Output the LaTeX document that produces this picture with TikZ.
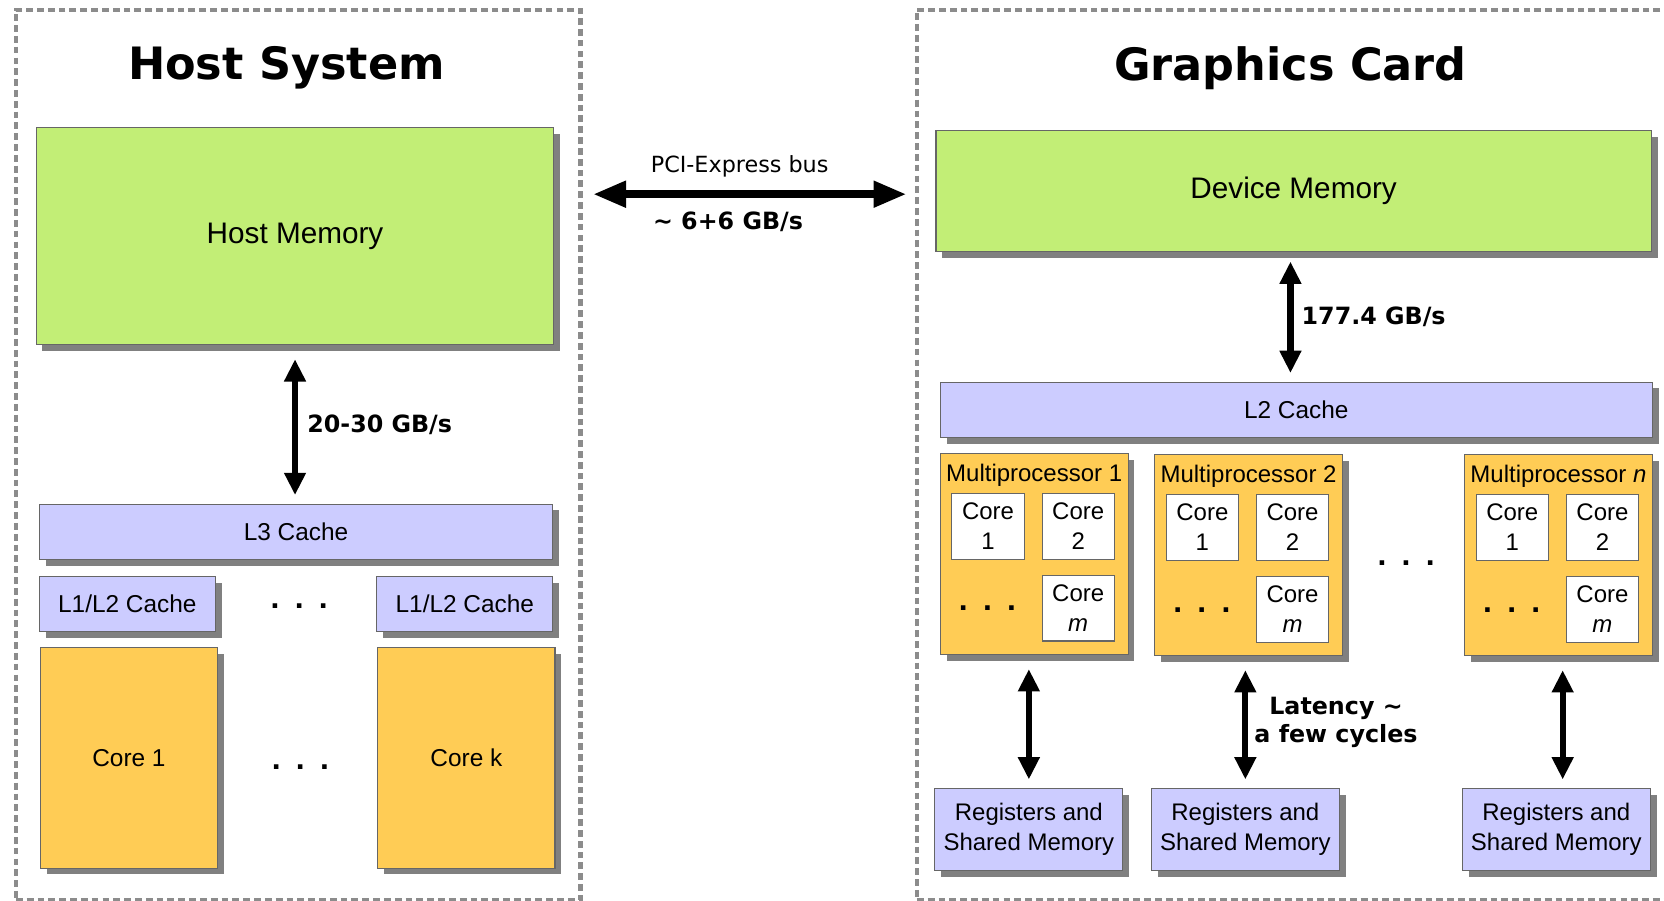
\documentclass[tikz,border=0pt]{standalone}
\usepackage{fontspec}
\setmainfont{Liberation Sans}
\newfontfamily\dejavu{DejaVu Sans}
\usetikzlibrary{arrows.meta,positioning,calc,shadows}

\definecolor{memgreen}{HTML}{C2EE76}
\definecolor{cachelav}{HTML}{CCCCFF}
\definecolor{coreorange}{HTML}{FFCC55}

\tikzset{
	box/.style={draw=black!60, line width=0.5pt, inner sep=0pt, align=center,
		drop shadow={shadow xshift=3pt, shadow yshift=-3pt, fill=black!50, opacity=1}},
	mem/.style={box, fill=memgreen, font=\fontsize{14}{17}\selectfont},
	cache/.style={box, fill=cachelav, minimum height=26pt, font=\fontsize{11.5}{14}\selectfont},
	cpucore/.style={box, fill=coreorange, minimum width=83.5pt, minimum height=104pt, font=\fontsize{11.5}{14}\selectfont},
	mproc/.style={box, fill=coreorange, minimum width=88.5pt, minimum height=95pt},
	mptitle/.style={inner sep=0pt, font=\fontsize{11.3}{14}\selectfont},
	smcore/.style={draw=black!60, line width=0.5pt, fill=white, inner sep=0pt, align=center,
		minimum width=34pt, minimum height=31pt, font=\fontsize{11.3}{14}\selectfont},
	regs/.style={box, fill=cachelav, minimum width=88.5pt, minimum height=38.5pt, font=\fontsize{11.3}{14}\selectfont},
	sysframe/.style={draw=black!45, line width=1.9pt, dash pattern=on 3.2pt off 1.9pt},
	title/.style={font=\dejavu\bfseries\fontsize{21}{25}\selectfont},
	rate/.style={font=\dejavu\bfseries\fontsize{11.2}{13}\selectfont},
	link/.style={line width=2.9pt, {Triangle[length=10.5pt,width=9.7pt]}-{Triangle[length=10.5pt,width=9.7pt]},
		shorten <=6.5pt, shorten >=4pt},
	bus/.style={line width=3.6pt, {Triangle[length=15.5pt,width=11.8pt]}-{Triangle[length=15.5pt,width=11.8pt]},
		shorten <=5pt, shorten >=4pt},
	spdots/.style={inner sep=0pt, font=\bfseries\fontsize{15}{17}\selectfont}
}
\newcommand{\spacedots}{.\hspace{7.2pt}.\hspace{7.2pt}.}

\begin{document}
\begin{tikzpicture}[x=0.5pt,y=-0.5pt]
	\useasboundingbox (0,0) rectangle (1568,849);
	% frames
	\node[sysframe, minimum width=266pt, minimum height=419.5pt] (hostframe) at (281,428.5) {};
	\node[sysframe, minimum width=355.5pt, minimum height=419.5pt] (gpuframe) at (1219.5,428.5) {};
	\node[title] (hosttitle) at (270,64) {Host System};
	\node[title] (gputitle) at (1216,64) {Graphics Card};

	% host side
	\node[mem, minimum width=244pt, minimum height=102.5pt] (hostmem) at (278,222.5) {Host Memory};
	\node[cache, minimum width=242pt] (l3) at (279,501) {L3 Cache};
	\node[cache, minimum width=83pt] (l1a) at (120,569) {L1/L2 Cache};
	\node[cache, minimum width=83pt] (l1b) at (438,569) {L1/L2 Cache};
	\node[spdots] (l1dots) at (282,571) {\spacedots};
	\node[cpucore] (core1) at (121.5,714) {Core 1};
	\node[cpucore] (corek) at (439.5,714) {Core k};
	\node[spdots] (coredots) at (283,723) {\spacedots};
	\draw[link] (hostmem.south) -- (hostmem.south |- l3.north) node[rate, midway, right=1pt] (hostrate) {20-30 GB/s};

	% gpu side
	\node[mem, minimum width=337pt, minimum height=57pt] (devmem) at (1219,180) {Device Memory};
	\node[cache, minimum width=335.5pt] (l2) at (1221.5,386) {L2 Cache};
	\draw[link, shorten <=4.5pt] ([xshift=-1.5pt]devmem.south) -- ([xshift=-1.5pt]devmem.south |- l2.north) node[rate, midway, right=0.5pt] (devrate) {177.4 GB/s};

	\node[mproc] (mp1) at (974.5,522) {};
	\node[mptitle] (mp1t) at ([shift={(0,21)}]mp1.north) {Multiprocessor 1};
	\node[smcore, anchor=north west] (mp1c1) at ([shift={(11,38)}]mp1.north west) {Core\\1};
	\node[smcore, anchor=north west] (mp1c2) at ([shift={(96,38)}]mp1.north west) {Core\\2};
	\node[smcore, anchor=north west] (mp1cm) at ([shift={(96,115)}]mp1.north west) {Core\\\textit{m}};
	\node[spdots] (mp1dots) at ([shift={(45,147)}]mp1.north west) {\spacedots};

	\node[mproc] (mp2) at (1176.5,523) {};
	\node[mptitle] (mp2t) at ([shift={(0,21)}]mp2.north) {Multiprocessor 2};
	\node[smcore, anchor=north west] (mp2c1) at ([shift={(11,38)}]mp2.north west) {Core\\1};
	\node[smcore, anchor=north west] (mp2c2) at ([shift={(96,38)}]mp2.north west) {Core\\2};
	\node[smcore, anchor=north west] (mp2cm) at ([shift={(96,115)}]mp2.north west) {Core\\\textit{m}};
	\node[spdots] (mp2dots) at ([shift={(45,147)}]mp2.north west) {\spacedots};

	\node[spdots] (mpdots) at (1325,531) {\spacedots};

	\node[mproc] (mpn) at (1468.5,523) {};
	\node[mptitle] (mpnt) at ([shift={(0,21)}]mpn.north) {Multiprocessor \textit{n}};
	\node[smcore, anchor=north west] (mpnc1) at ([shift={(11,38)}]mpn.north west) {Core\\1};
	\node[smcore, anchor=north west] (mpnc2) at ([shift={(96,38)}]mpn.north west) {Core\\2};
	\node[smcore, anchor=north west] (mpncm) at ([shift={(96,115)}]mpn.north west) {Core\\\textit{m}};
	\node[spdots] (mpndots) at ([shift={(45,147)}]mpn.north west) {\spacedots};

	\node[regs] (reg1) at (969.5,781.5) {Registers and\\Shared Memory};
	\node[regs] (reg2) at (1173.5,781.5) {Registers and\\Shared Memory};
	\node[regs] (regn) at (1466.5,781.5) {Registers and\\Shared Memory};

	\draw[link] (reg1.north |- mp1.south) -- (reg1.north);
	\draw[link] (reg2.north |- mp2.south) -- (reg2.north) node[rate, midway, right=-0.5pt, align=center] (latency) {Latency \textasciitilde\\a few cycles};
	\draw[link] ([xshift=3pt]regn.north |- mpn.south) -- ([xshift=3pt]regn.north);

	% bus between the two systems
	\draw[bus] ([yshift=-1.5pt]hostframe.east |- devmem.west) -- ([yshift=-1.5pt]gpuframe.west |- devmem.west)
		node[midway, yshift=13pt, xshift=-4.25pt, font=\dejavu\fontsize{10.5}{12}\selectfont] (bustext) {PCI-Express bus}
		node[rate, midway, yshift=-13pt, xshift=-9.75pt] (busrate) {\textasciitilde{} 6+6 GB/s};
\end{tikzpicture}
\end{document}
